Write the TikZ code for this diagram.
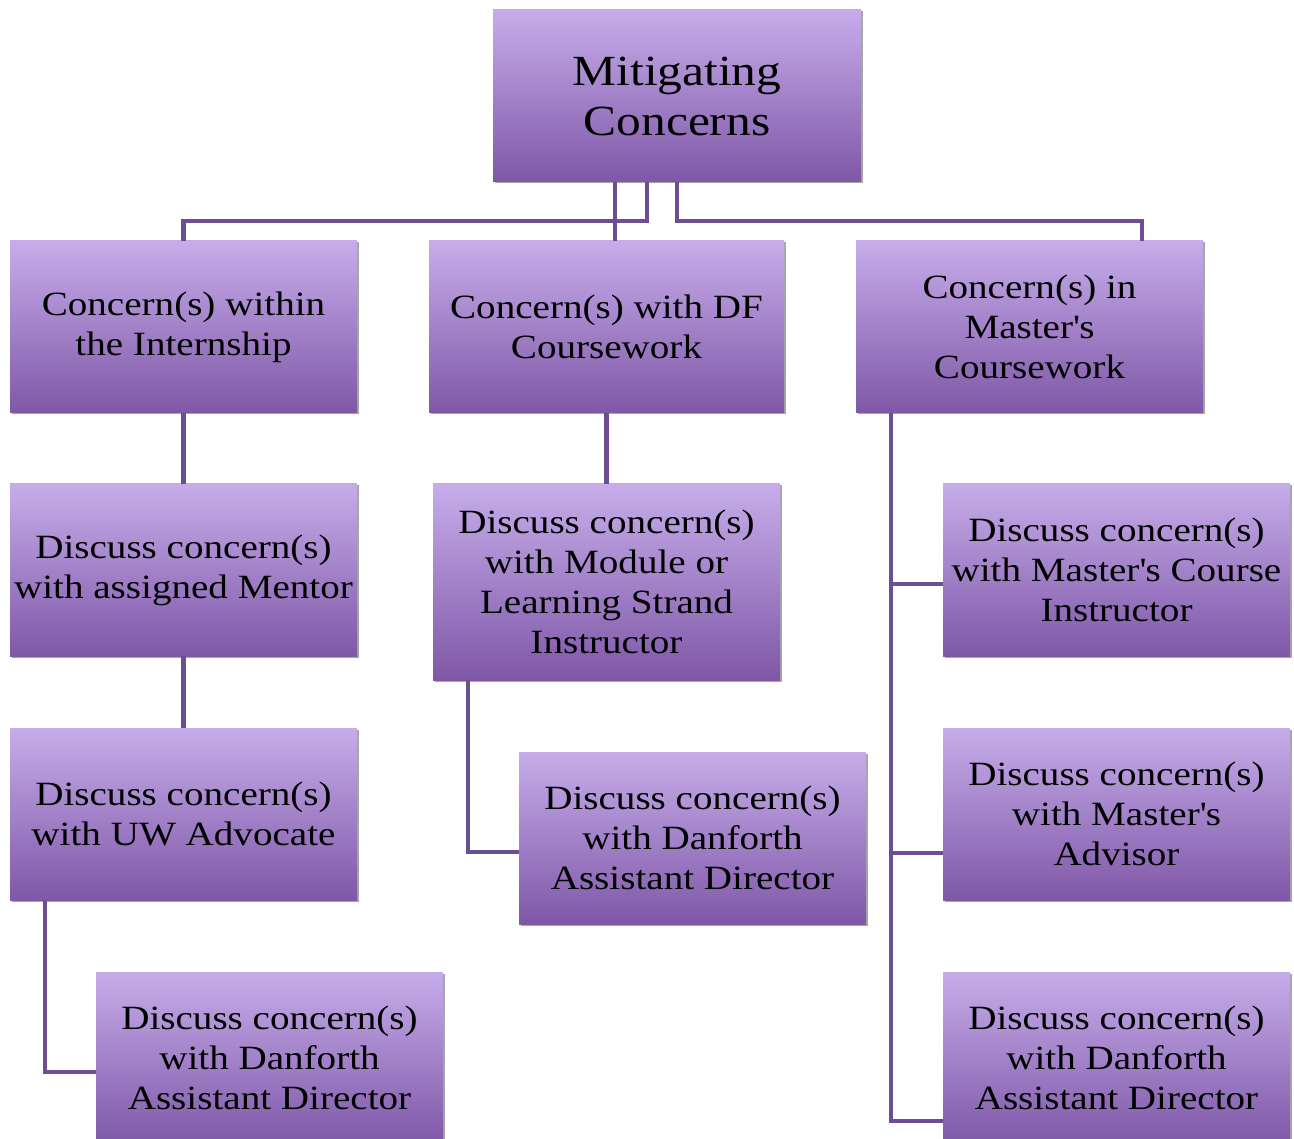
\documentclass[tikz,border=0pt]{standalone}
\usepackage{fontspec}
\setmainfont{Liberation Serif}[FakeStretch=1.15]
\usetikzlibrary{shadows}
\definecolor{boxtop}{HTML}{C6ADEA}
\definecolor{boxbot}{HTML}{7F57A7}
\definecolor{linec}{HTML}{6C4F91}
\begin{document}
\begin{tikzpicture}[x=1pt,y=-1pt,
  box/.style={rectangle, top color=boxtop, bottom color=boxbot,
    minimum width=347pt, minimum height=172pt, inner sep=0pt, align=center,
    font=\fontsize{34}{40}\selectfont, text=black,
    drop shadow={shadow xshift=1.5pt, shadow yshift=-1.5pt, opacity=0.35, fill=black}},
  conn/.style={draw=linec, line width=4.5pt}]
\useasboundingbox (0,0) rectangle (1294,1139);
% top
\node[box, minimum width=368pt, font=\fontsize{43}{50}\selectfont] (t) at (677,96) {Mitigating\\Concerns};
% row 1
\node[box] (a1) at (183.5,327) {Concern(s) within\\the Internship};
\node[box, minimum width=355pt] (b1) at (606.5,327) {Concern(s) with DF\\Coursework};
\node[box] (c1) at (1029.5,327) {Concern(s) in\\Master\textquotesingle s\\Coursework};
% row 2
\node[box] (a2) at (183.5,570) {Discuss concern(s)\\with assigned Mentor};
\node[box, minimum height=196pt] (b2) at (606.5,582) {Discuss concern(s)\\with Module or\\Learning Strand\\Instructor};
\node[box] (c2) at (1116.5,570) {Discuss concern(s)\\with Master\textquotesingle s Course\\Instructor};
% row 3
\node[box] (a3) at (183.5,814) {Discuss concern(s)\\with UW Advocate};
\node[box] (b3) at (692.5,838) {Discuss concern(s)\\with Danforth\\Assistant Director};
\node[box] (c3) at (1116.5,814) {Discuss concern(s)\\with Master\textquotesingle s\\Advisor};
% row 4
\node[box] (a4) at (269.5,1058) {Discuss concern(s)\\with Danforth\\Assistant Director};
\node[box] (c4) at (1116.5,1058) {Discuss concern(s)\\with Danforth\\Assistant Director};
% connectors
\draw[conn] ([xshift=-62pt]t.south) -- ([xshift=-62pt]t.south |- b1.north);
\draw[conn] ([xshift=-30pt]t.south) -- ++(0,39) -| (a1.north);
\draw[conn] (t.south) -- ++(0,39) -| ([xshift=112.5pt]c1.north);
\draw[conn] (a1.south) -- (a2.north);
\draw[conn] (a2.south) -- (a3.north);
\draw[conn] ([xshift=35pt]a3.south west) |- ([yshift=-14pt]a4.west);
\draw[conn] (b1.south) -- (b2.north);
\draw[conn] ([xshift=35pt]b2.south west) |- ([yshift=-14pt]b3.west);
\draw[conn] ([xshift=35pt]c1.south west) |- ([yshift=-63pt]c4.west);
\draw[conn] ([xshift=35pt]c1.south west) |- ([yshift=-14pt]c2.west);
\draw[conn] ([xshift=35pt]c1.south west) |- ([yshift=-39pt]c3.west);
\end{tikzpicture}
\end{document}
